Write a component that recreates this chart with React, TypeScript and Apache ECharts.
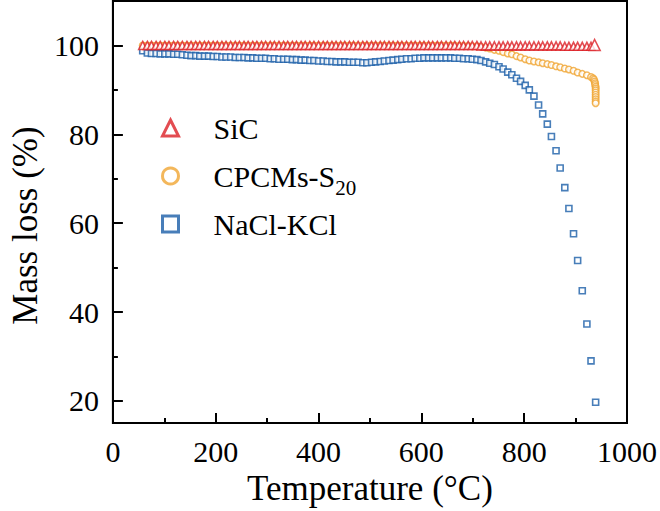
import React, { useEffect, useRef } from 'react';
import * as echarts from 'echarts';

// Temperature grid (°C) shared by the three TGA curves
const temperatures = [
  58, 67, 75, 84, 92, 101, 109, 118, 126, 135, 144, 152, 161, 169, 178, 186, 195, 203, 212, 220,
  229, 238, 246, 255, 263, 272, 280, 289, 297, 306, 314, 323, 332, 340, 349, 357, 366, 374, 383, 391,
  400, 409, 417, 426, 434, 443, 451, 460, 468, 477, 486, 494, 503, 511, 520, 528, 537, 545, 554, 562,
  571, 580, 588, 597, 605, 614, 622, 631, 639, 648, 657, 665, 674, 682, 691, 699, 708, 716, 725, 733,
  742, 751, 759, 768, 776, 785, 793, 802, 810, 819, 828, 836, 845, 853, 862, 870, 879, 887, 896, 904,
  913, 922, 930, 937,
];

const sicMass = [
  100.0, 100.0, 100.0, 100.0, 100.0, 100.0, 100.0, 100.0, 100.0, 100.0, 100.0, 100.0, 100.0, 100.0, 100.0, 100.0, 100.0, 100.0, 100.0, 100.0,
  100.0, 100.0, 100.0, 100.0, 100.0, 100.0, 100.0, 100.0, 100.0, 100.0, 100.0, 100.0, 100.0, 100.0, 100.0, 100.0, 100.0, 100.0, 100.0, 100.0,
  100.0, 100.0, 100.0, 100.0, 100.0, 100.0, 100.0, 100.0, 100.0, 100.0, 100.0, 100.0, 100.0, 100.0, 100.0, 100.0, 100.0, 100.0, 100.0, 100.0,
  100.0, 100.0, 100.0, 100.0, 100.0, 100.0, 100.0, 100.0, 100.0, 100.0, 100.0, 100.0, 100.0, 100.0, 100.0, 100.0, 100.0, 99.9, 99.9, 99.9,
  99.9, 99.9, 99.9, 99.9, 99.9, 99.9, 99.9, 99.9, 99.9, 99.9, 99.9, 99.9, 99.9, 99.9, 99.9, 99.9, 99.8, 99.8, 99.8, 99.8,
  99.8, 99.8, 99.8, 100.1,
];

const cpcmsMass = [
  100.0, 100.0, 100.0, 100.0, 100.0, 100.0, 100.0, 100.0, 100.0, 100.0, 100.0, 100.0, 100.0, 100.0, 100.0, 100.0, 100.0, 100.0, 100.0, 100.0,
  100.0, 100.0, 100.0, 100.0, 100.0, 100.0, 100.0, 100.0, 100.0, 100.0, 100.0, 100.0, 100.0, 100.0, 100.0, 100.0, 100.0, 100.0, 100.0, 100.0,
  100.0, 100.0, 100.0, 100.0, 100.0, 100.0, 100.0, 100.0, 100.0, 100.0, 100.0, 100.0, 100.0, 100.0, 100.0, 100.0, 100.0, 100.0, 100.0, 100.0,
  100.0, 100.0, 100.0, 100.0, 100.0, 100.0, 100.0, 100.0, 100.0, 100.0, 100.0, 100.0, 99.9, 99.9, 99.9, 99.8, 99.8, 99.7, 99.5, 99.3,
  99.0, 98.8, 98.5, 98.2, 98.0, 97.6, 97.3, 96.9, 96.6, 96.4, 96.2, 96.0, 95.8, 95.6, 95.3, 95.1, 94.8, 94.6, 94.3, 93.9,
  93.6, 93.3, 92.9,
];
// isothermal tail of the composite at the end of the run
const cpcmsTailTemp = [934, 936, 937, 938, 938, 939, 939, 939, 939, 939, 939, 939, 939, 939];
const cpcmsTailMass = [92.6, 92.3, 91.9, 91.5, 91.1, 90.7, 90.3, 89.9, 89.4, 88.9, 88.4, 87.9, 87.4, 87.0];

const naclMass = [
  98.8, 98.3, 98.2, 98.2, 98.1, 98.1, 98.1, 98.0, 98.0, 97.9, 97.8, 97.7, 97.7, 97.6, 97.6, 97.6, 97.5, 97.5, 97.4, 97.4,
  97.4, 97.3, 97.3, 97.3, 97.2, 97.2, 97.1, 97.1, 97.1, 97.0, 97.0, 96.9, 96.9, 96.9, 96.8, 96.8, 96.7, 96.7, 96.6, 96.6,
  96.5, 96.5, 96.4, 96.4, 96.3, 96.3, 96.3, 96.2, 96.2, 96.2, 96.1, 96.1, 96.2, 96.3, 96.4, 96.5, 96.6, 96.7, 96.8, 96.9,
  97.0, 97.0, 97.1, 97.1, 97.2, 97.2, 97.2, 97.2, 97.2, 97.2, 97.2, 97.1, 97.1, 97.0, 97.0, 96.9, 96.8, 96.6, 96.3, 96.0,
  95.7, 95.2, 94.7, 94.0, 93.4, 92.6, 91.9, 91.0, 90.0, 88.6, 86.6, 84.6, 82.3, 79.5, 76.3, 72.4, 68.0, 63.3, 57.6, 51.6,
  44.8, 37.3, 29.0, 19.7,
];
const naclTemp = [
  58, 67, 75, 84, 92, 101, 109, 118, 126, 135, 144, 152, 161, 169, 178, 186, 195, 203, 212, 220,
  229, 238, 246, 255, 263, 272, 280, 289, 297, 306, 314, 323, 332, 340, 349, 357, 366, 374, 383, 391,
  400, 409, 417, 426, 434, 443, 451, 460, 468, 477, 486, 494, 503, 511, 520, 528, 537, 545, 554, 562,
  571, 580, 588, 597, 605, 614, 622, 631, 639, 648, 657, 665, 674, 682, 691, 699, 708, 716, 725, 733,
  742, 751, 759, 768, 776, 785, 793, 802, 810, 819, 828, 836, 845, 853, 862, 870, 879, 887, 896, 904,
  913, 922, 930, 939,
];

const xTicks = [0, 200, 400, 600, 800, 1000];
const yMajorTicks = [20, 40, 60, 80, 100];
const yMinorTicks = [30, 50, 70, 90];

const seriesNames = ['SiC', 'CPCMs-S20', 'NaCl-KCl'];
const seriesColors = ['#dc1f26', '#f0a532', '#1a5ea8'];
const seriesSymbols = ['triangle', 'circle', 'rect'];

export default function App() {
  const ref = useRef<HTMLDivElement>(null);

  useEffect(() => {
    if (!ref.current) return;
    const chart = echarts.init(ref.current, null, { renderer: 'svg' });
    const font = "'Liberation Serif', 'Times New Roman', serif";

    const sicData = temperatures.map((t, i) =>
      i === temperatures.length - 1 ? { value: [t, sicMass[i]], symbolSize: 11 } : [t, sicMass[i]]
    );
    const cpcmsData = cpcmsMass
      .map((v, i) => [temperatures[i], v])
      .concat(cpcmsTailTemp.map((t, i) => [t, cpcmsTailMass[i]]));
    const naclData = naclTemp.map((t, i) => [t, naclMass[i]]);

    const tickStyle = { color: '#000', width: 2 };

    chart.setOption({
      animation: false,
      backgroundColor: '#fff',
      grid: {
        left: 88,
        right: 33,
        top: 1,
        bottom: 83,
        show: true,
        borderColor: '#000',
        borderWidth: 2,
        backgroundColor: 'transparent',
      },
      legend: {
        orient: 'vertical',
        left: 156,
        top: 108,
        itemWidth: 16,
        itemHeight: 16,
        itemGap: 11,
        data: seriesNames.map((name, i) => ({
          name,
          icon: seriesSymbols[i],
          itemStyle: { color: '#fff', borderColor: seriesColors[i], borderWidth: 3 },
        })),
        formatter: (name: string) =>
          name === 'CPCMs-S20' ? '{m|CPCMs-S}{s|20}' : '{m|' + name + '}',
        textStyle: {
          fontFamily: font,
          fontSize: 30,
          color: '#000',
          lineHeight: 30,
          padding: [0, 0, 0, 30],
          rich: {
            m: { fontFamily: font, fontSize: 30, color: '#000', lineHeight: 30 },
            s: { fontFamily: font, fontSize: 21, color: '#000', lineHeight: 4, padding: [23, 0, 0, 0] },
          },
        },
      },
      xAxis: {
        type: 'value',
        min: 0,
        max: 1000,
        interval: 200,
        name: 'Temperature (°C)',
        nameLocation: 'middle',
        nameGap: 45,
        nameTextStyle: { fontFamily: font, fontSize: 35, color: '#000' },
        axisLine: { show: true, lineStyle: tickStyle },
        axisTick: { show: true, inside: true, length: 10, lineStyle: tickStyle },
        minorTick: { show: true, splitNumber: 2, length: 5, lineStyle: tickStyle },
        axisLabel: {
          fontFamily: font,
          fontSize: 30,
          color: '#000',
          margin: 13,
          customValues: xTicks,
          formatter: (v: number) => String(v),
        },
        splitLine: { show: false },
      },
      yAxis: [
        {
          type: 'value',
          min: 15,
          max: 110,
          name: 'Mass loss (%)',
          nameLocation: 'middle',
          nameGap: 56,
          nameTextStyle: { fontFamily: font, fontSize: 35, color: '#000', padding: [0, 27, 0, 0] },
          axisLine: { show: true, lineStyle: tickStyle },
          axisTick: { show: true, inside: true, length: 10, lineStyle: tickStyle, customValues: yMajorTicks },
          axisLabel: {
            fontFamily: font,
            fontSize: 30,
            color: '#000',
            margin: 14,
            customValues: yMajorTicks,
            formatter: (v: number) => String(v),
          },
          splitLine: { show: false },
        },
        {
          type: 'value',
          min: 15,
          max: 110,
          position: 'left',
          axisLine: { show: false },
          axisTick: { show: true, inside: true, length: 5, lineStyle: tickStyle, customValues: yMinorTicks },
          axisLabel: { show: false },
          splitLine: { show: false },
        },
      ],
      series: [
        {
          name: 'NaCl-KCl',
          type: 'scatter',
          symbol: 'rect',
          symbolSize: 6,
          data: naclData,
          itemStyle: { color: '#fff', borderColor: seriesColors[2], borderWidth: 1.6 },
          z: 2,
        },
        {
          name: 'CPCMs-S20',
          type: 'scatter',
          symbol: 'circle',
          symbolSize: 6.5,
          data: cpcmsData,
          itemStyle: { color: '#fff', borderColor: seriesColors[1], borderWidth: 1.5 },
          z: 3,
        },
        {
          name: 'SiC',
          type: 'scatter',
          symbol: 'triangle',
          symbolSize: 8,
          data: sicData,
          itemStyle: { color: '#fff', borderColor: seriesColors[0], borderWidth: 1.6 },
          z: 4,
        },
      ],
    });

    return () => chart.dispose();
  }, []);

  return (
    <div
      ref={ref}
      style={{ position: 'absolute', left: 0, top: 0, width: 660, height: 511 }}
    />
  );
}
